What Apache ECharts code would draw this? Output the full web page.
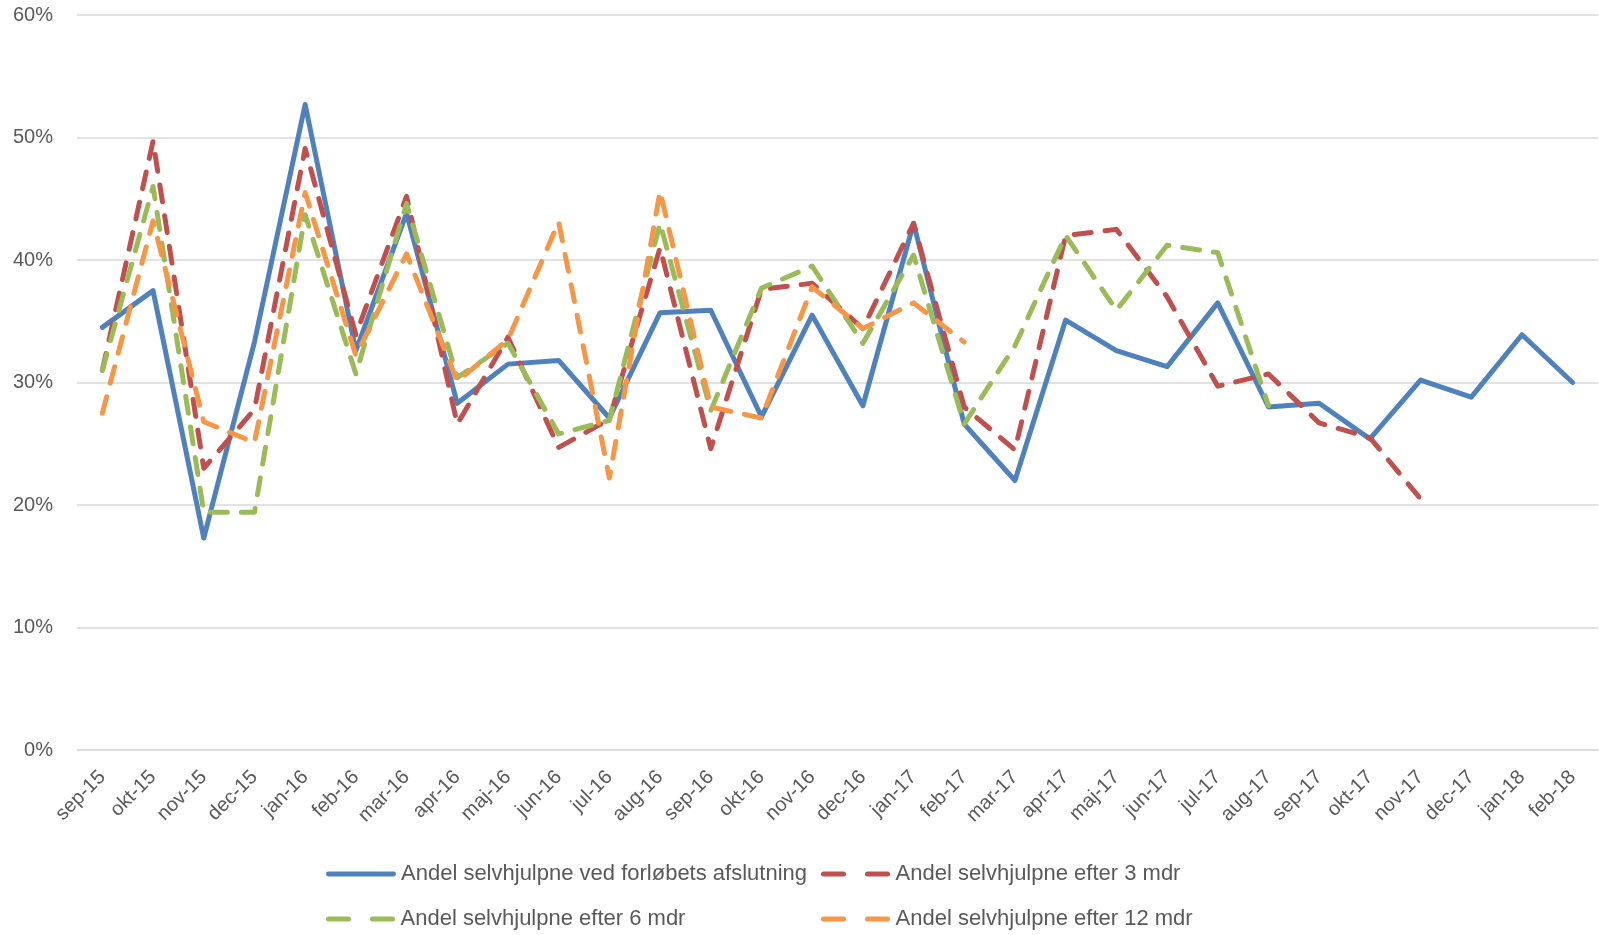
<!DOCTYPE html>
<html>
<head>
<meta charset="utf-8">
<script src="https://cdn.jsdelivr.net/npm/echarts@6/dist/echarts.min.js"></script>
<style>
  html, body { margin: 0; padding: 0; background: #fff; }
</style>
</head>
<body>
<div id="chart" style="width: 1599px; height: 935px"></div>
<script>
// months on the x axis
var months = ['sep-15', 'okt-15', 'nov-15', 'dec-15', 'jan-16', 'feb-16', 'mar-16', 'apr-16', 'maj-16', 'jun-16',
  'jul-16', 'aug-16', 'sep-16', 'okt-16', 'nov-16', 'dec-16', 'jan-17', 'feb-17', 'mar-17', 'apr-17',
  'maj-17', 'jun-17', 'jul-17', 'aug-17', 'sep-17', 'okt-17', 'nov-17', 'dec-17', 'jan-18', 'feb-18']

var seriesNames = [
  'Andel selvhjulpne ved forløbets afslutning',
  'Andel selvhjulpne efter 3 mdr',
  'Andel selvhjulpne efter 6 mdr',
  'Andel selvhjulpne efter 12 mdr'
]

// values in percent
var vedAfslutning = [34.5, 37.5, 17.3, 33.3, 52.7, 32.6, 43.8, 28.3, 31.5, 31.8,
  27.1, 35.7, 35.9, 27.2, 35.5, 28.1, 43.0, 26.6, 22.0, 35.1,
  32.6, 31.3, 36.5, 28.0, 28.3, 25.4, 30.2, 28.8, 33.9, 30.0]
var efter3 = [31.0, 49.7, 23.0, 27.8, 49.1, 33.9, 45.2, 26.6, 33.7, 24.7,
  27.0, 41.0, 24.6, 37.6, 38.1, 34.4, 43.0, 28.0, 24.5, 42.0,
  42.5, 37.0, 29.7, 30.7, 26.7, 25.5, 20.5]
var efter6 = [31.0, 46.0, 19.4, 19.4, 43.7, 30.7, 44.6, 30.4, 33.2, 25.8,
  26.9, 43.0, 27.7, 37.7, 39.5, 33.2, 40.4, 26.6, 33.0, 42.0,
  35.9, 41.2, 40.6, 28.1]
var efter12 = [27.5, 43.2, 26.8, 25.1, 45.5, 32.2, 40.5, 30.1, 33.5, 43.1,
  22.2, 45.6, 28.0, 27.1, 37.8, 34.4, 36.5, 33.3]

var colors = ['#4F81BD', '#C0504D', '#9BBB59', '#F79646']
var font = 'Liberation Sans'

// legend icons: solid bar, or two dashes
var solidIcon = 'path://M2,0H68A2.5,2.5 0 0 1 68,5H2A2.5,2.5 0 0 1 2,0Z'
var dashIcon = 'path://M2,0H22A2.5,2.5 0 0 1 22,5H2A2.5,2.5 0 0 1 2,0Z M46,0H66A2.5,2.5 0 0 1 66,5H46A2.5,2.5 0 0 1 46,0Z'

function lineSeries(name, data, color, dashed) {
  return {
    name: name,
    type: 'line',
    data: data,
    symbol: 'none',
    smooth: false,
    lineStyle: {
      color: color,
      width: 5,
      type: dashed ? [17, 14] : 'solid',
      cap: 'round',
      join: 'round'
    },
    itemStyle: { color: color }
  }
}

function legendItem(name, icon, left, top) {
  return {
    data: [{ name: name, icon: icon }],
    left: left,
    top: top,
    padding: 0,
    itemWidth: 70,
    itemHeight: 5,
    textStyle: { fontFamily: font, fontSize: 22, color: '#595959' }
  }
}

var myChart = echarts.init(document.getElementById('chart'))
var option = {
  animation: false,
  textStyle: { fontFamily: font },
  grid: { left: 77, right: 1, top: 15, bottom: 185, containLabel: false },
  legend: [
    legendItem(seriesNames[0], solidIcon, 326, 863),
    legendItem(seriesNames[1], dashIcon, 821, 863),
    legendItem(seriesNames[2], dashIcon, 326, 908),
    legendItem(seriesNames[3], dashIcon, 821, 908)
  ],
  xAxis: {
    type: 'category',
    data: months,
    boundaryGap: true,
    axisLine: { lineStyle: { color: '#D9D9D9', width: 1.5 } },
    axisTick: { show: false },
    axisLabel: {
      rotate: 45,
      interval: 0,
      margin: 24,
      fontSize: 20,
      color: '#595959',
      fontFamily: font
    }
  },
  yAxis: {
    type: 'value',
    min: 0,
    max: 60,
    interval: 10,
    axisLine: { show: false },
    axisTick: { show: false },
    splitLine: { lineStyle: { color: '#D9D9D9', width: 1.5 } },
    axisLabel: {
      formatter: '{value}%',
      fontSize: 20,
      margin: 24,
      color: '#595959',
      fontFamily: font
    }
  },
  series: [
    lineSeries(seriesNames[0], vedAfslutning, colors[0], false),
    lineSeries(seriesNames[1], efter3, colors[1], true),
    lineSeries(seriesNames[2], efter6, colors[2], true),
    lineSeries(seriesNames[3], efter12, colors[3], true)
  ]
}
myChart.setOption(option)
</script>
</body>
</html>
